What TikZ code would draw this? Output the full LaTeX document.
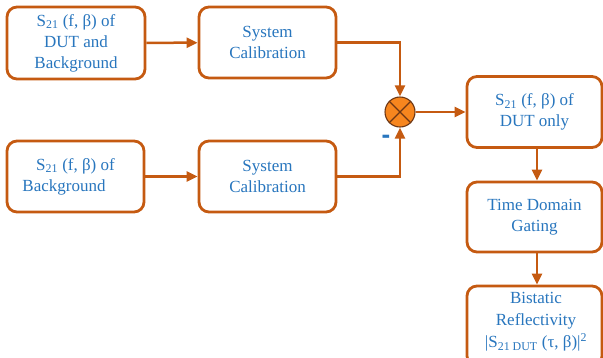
\documentclass[tikz,border=0pt]{standalone}
\usepackage{fontspec}
\setmainfont{Liberation Serif}
\setsansfont{Liberation Sans}
\usetikzlibrary{arrows.meta}
\definecolor{brd}{RGB}{197,90,17}
\definecolor{txt}{RGB}{40,118,190}
\definecolor{mixfill}{RGB}{247,134,30}
\definecolor{mixline}{RGB}{110,55,20}
\begin{document}
\begin{tikzpicture}[x=1pt,y=-1pt,
  box/.style={draw=brd, line width=2.8pt, rounded corners=10pt, fill=white, text=txt,
    align=center, font=\fontsize{17}{21}\selectfont, inner sep=0pt},
  lbl/.style={text=txt, align=center, font=\fontsize{17}{22}\selectfont, inner sep=0pt},
  arr/.style={draw=brd, line width=2.5pt, -{Triangle[length=11pt,width=10pt]}}]
\clip (0,0) rectangle (603,357);
\node[box, minimum width=138pt, minimum height=72pt] (a) at (76,43)
  {S\textsubscript{21} (f, β) of\\DUT and\\Background};
\node[box, minimum width=137pt, minimum height=71pt] (b) at (267.5,42.5)
  {System\\Calibration};
\node[box, minimum width=137pt, minimum height=71pt] (c) at (75.5,176.5)
  {S\textsubscript{21} (f, β) of\\Background\makebox[23pt]{}};
\node[box, minimum width=137pt, minimum height=71pt] (d) at (267.5,176.5)
  {System\\Calibration};
\node[box, minimum width=135pt, minimum height=71pt] (e) at (534.5,112)
  {S\textsubscript{21} (f, β) of\\DUT only};
\node[box, minimum width=135pt, minimum height=70pt] (f) at (534.5,217)
  {Time Domain\\Gating};
\node[box, minimum width=135pt, minimum height=80pt] (g) at (534.5,326) {};
\node[lbl] (gt) at (536,322)
  {Bistatic\\Reflectivity\\|S\textsubscript{21 DUT} (τ, β)|\textsuperscript{2}};
\node[circle, draw=mixline, fill=mixfill, line width=1.1pt, minimum size=30pt, inner sep=0pt] (m) at (400,112) {};
\draw[mixline, line width=1.1pt] (m.north east) -- (m.south west) (m.north west) -- (m.south east);
\node[text=txt, font=\fontsize{26}{26}\sffamily\bfseries, inner sep=0pt] (minus) at (386,139) {-};
\draw[arr] (a) -- (b);
\draw[arr] (c) -- (d);
\draw[arr] (b.east) -| (m.north);
\draw[arr] (d.east) -| (m.south);
\draw[arr] (m.east) -- (e.west);
\draw[arr] ([xshift=2.5pt]e.south) -- ([xshift=2.5pt]f.north);
\draw[arr] ([xshift=2.5pt]f.south) -- ([xshift=2.5pt]g.north);
\end{tikzpicture}
\end{document}
